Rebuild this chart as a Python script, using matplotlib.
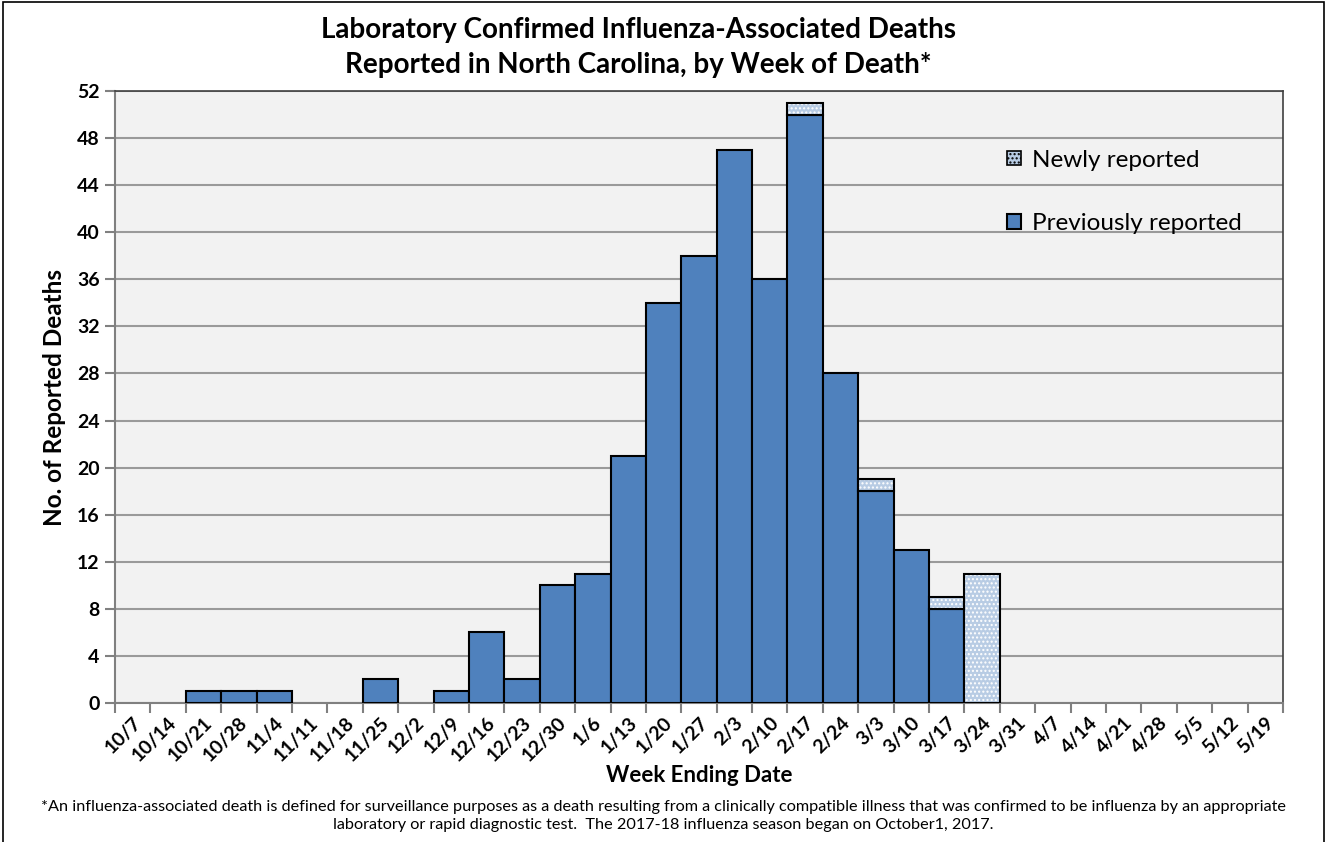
import matplotlib.pyplot as plt
import numpy as np
from matplotlib.patches import Patch

plt.rcParams['font.family'] = ['Lato', 'DejaVu Sans']

weeks = ['10/7', '10/14', '10/21', '10/28', '11/4', '11/11', '11/18', '11/25', '12/2', '12/9',
         '12/16', '12/23', '12/30', '1/6', '1/13', '1/20', '1/27', '2/3', '2/10', '2/17',
         '2/24', '3/3', '3/10', '3/17', '3/24', '3/31', '4/7', '4/14', '4/21', '4/28',
         '5/5', '5/12', '5/19']
previously = [0, 0, 1, 1, 1, 0, 0, 2, 0, 1,
              6, 2, 10, 11, 21, 34, 38, 47, 36, 50,
              28, 18, 13, 8, 0, 0, 0, 0, 0, 0,
              0, 0, 0]
newly = [0, 0, 0, 0, 0, 0, 0, 0, 0, 0,
         0, 0, 0, 0, 0, 0, 0, 0, 0, 1,
         0, 1, 0, 1, 11, 0, 0, 0, 0, 0,
         0, 0, 0]

blue = '#4F81BD'
light = '#B8CCE4'

fig = plt.figure(figsize=(13.27, 8.42), dpi=100)
ax = fig.add_axes([115/1327, 1-703/842, (1283-115)/1327, (703-91)/842])
ax.set_facecolor('#F2F2F2')

x = np.arange(len(weeks))
prev = np.array(previously)
new = np.array(newly)

# previously reported
m = prev > 0
ax.bar(x[m], prev[m], width=1, color=blue, edgecolor='black', linewidth=1.5, zorder=3)
# newly reported (dotted fill), drawn twice: fill with white dots, then black outline
n = new > 0
ax.bar(x[n], new[n], bottom=prev[n], width=1, color=light, edgecolor='white',
       hatch='....', linewidth=0, zorder=3)
ax.bar(x[n], new[n], bottom=prev[n], width=1, fill=False, edgecolor='black',
       linewidth=1.5, zorder=4)

ax.set_xlim(-0.5, len(weeks) - 0.5)
ax.set_ylim(0, 52)
ax.set_yticks(range(0, 53, 4))
ax.yaxis.grid(True, color='#9A9A9A', linewidth=1.5, zorder=0)
ax.set_axisbelow(True)

ax.set_xticks(np.append(x - 0.5, x[-1] + 0.5))
ax.set_xticklabels([])
ax.set_xticks(x, minor=True)
ax.set_xticklabels(weeks, minor=True, rotation=45, ha='right', va='top',
                   rotation_mode='anchor', fontsize=14, fontweight='bold')
ax.tick_params(axis='x', which='minor', length=0, pad=8)
ax.tick_params(axis='x', which='major', length=7, color='#808080', width=1.5)
ax.tick_params(axis='y', length=7, color='#808080', width=1.5, labelsize=14, pad=4)
for lab in ax.get_yticklabels():
    lab.set_fontweight('bold')

for s in ['left', 'bottom']:
    ax.spines[s].set_color('#808080')
    ax.spines[s].set_linewidth(1.5)
for s in ['top', 'right']:
    ax.spines[s].set_color('#404040')
    ax.spines[s].set_linewidth(1.2)

ax.set_ylabel('No. of Reported Deaths', fontsize=17.5, fontweight='bold', labelpad=8)
ax.set_xlabel('Week Ending Date', fontsize=16, fontweight='bold', labelpad=0)

h_new = Patch(facecolor=light, edgecolor='black', hatch='....', linewidth=1.2)
h_prev = Patch(facecolor=blue, edgecolor='black', linewidth=1.5)
ax.legend([h_new, h_prev], ['Newly reported', 'Previously reported'],
          loc='upper right', bbox_to_anchor=(0.983, 0.94), frameon=False,
          fontsize=17.5, labelspacing=1.75, handlelength=0.55, handleheight=0.55,
          handletextpad=0.45)

fig.text(0.481, 1-30/842, 'Laboratory Confirmed Influenza-Associated Deaths',
         ha='center', va='center', fontsize=20, fontweight='bold')
fig.text(0.481, 1-65/842, 'Reported in North Carolina, by Week of Death*',
         ha='center', va='center', fontsize=20, fontweight='bold')

fig.text(0.5, 1-807/842, '*An influenza-associated death is defined for surveillance purposes as a death '
         'resulting from a clinically compatible illness that was confirmed to be influenza by an appropriate',
         ha='center', va='center', fontsize=11.7)
fig.text(0.5, 1-825/842, 'laboratory or rapid diagnostic test.  The 2017-18 influenza season began on October1, 2017.',
         ha='center', va='center', fontsize=11.7)

fig.patches.append(plt.Rectangle((0.002, -0.01), 0.996, 1.008, transform=fig.transFigure,
                                 fill=False, edgecolor='black', linewidth=1.2))

fig.savefig('out.png', dpi=100)
